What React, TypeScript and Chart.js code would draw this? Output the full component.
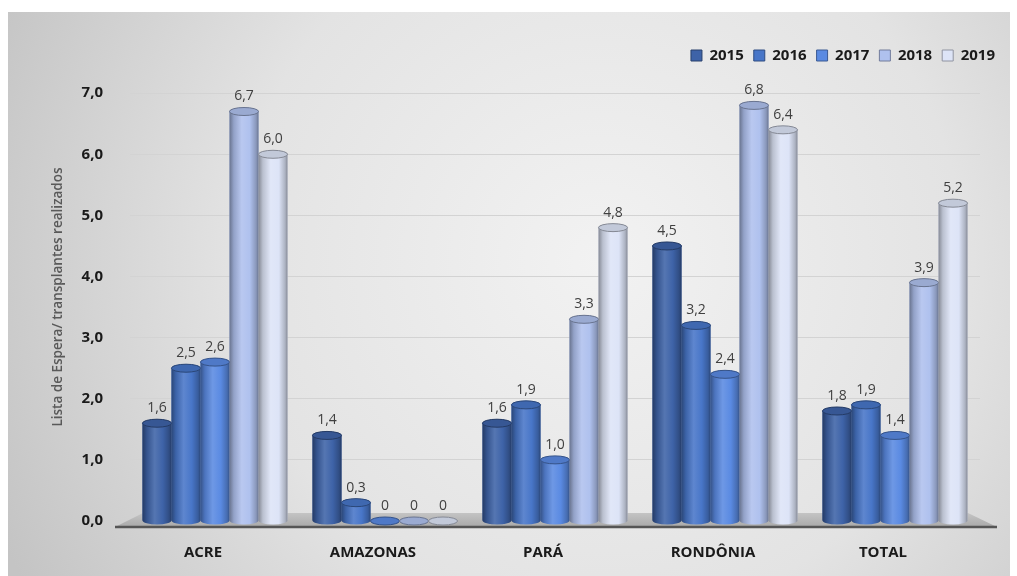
import React, { useEffect, useRef } from 'react';
import { Chart, registerables } from 'chart.js';

Chart.register(...registerables);

const categories = ['ACRE', 'AMAZONAS', 'PARÁ', 'RONDÔNIA', 'TOTAL'];
const years = ['2015', '2016', '2017', '2018', '2019'];
const v2015 = [1.6, 1.4, 1.6, 4.5, 1.8];
const v2016 = [2.5, 0.3, 1.9, 3.2, 1.9];
const v2017 = [2.6, 0, 1.0, 2.4, 1.4];
const v2018 = [6.7, 0, 3.3, 6.8, 3.9];
const v2019 = [6.0, 0, 4.8, 6.4, 5.2];
const seriesValues = [v2015, v2016, v2017, v2018, v2019];
const yTicks = [0, 1, 2, 3, 4, 5, 6, 7];
const yTitle = 'Lista de Espera/ transplantes realizados';
const colors = ['#3E63A8', '#4876C8', '#5A8AE2', '#AFC1EE', '#DDE4F7'];

const FONT = '"Open Sans", "Noto Sans", sans-serif';

const rgb = (h: string) => [1, 3, 5].map((i) => parseInt(h.slice(i, i + 2), 16));
const shade = (h: string, f: number) => {
  const [r, g, b] = rgb(h).map((c) => Math.max(0, Math.min(255, Math.round(c * f))));
  return `rgb(${r},${g},${b})`;
};
const tint = (h: string, f: number) => {
  const [r, g, b] = rgb(h).map((c) => Math.round(c + (255 - c) * f));
  return `rgb(${r},${g},${b})`;
};
const fmt = (v: number) => (v === 0 ? '0' : v.toFixed(1).replace('.', ','));

const drawCylinder = (ctx: CanvasRenderingContext2D, x: number, top: number, base: number, w: number, color: string) => {
  const left = x - w / 2;
  const rx = w / 2;
  const ry = 4;
  const g = ctx.createLinearGradient(left, 0, left + w, 0);
  g.addColorStop(0, shade(color, 0.6));
  g.addColorStop(0.15, shade(color, 0.84));
  g.addColorStop(0.42, tint(color, 0.12));
  g.addColorStop(0.7, color);
  g.addColorStop(0.92, shade(color, 0.78));
  g.addColorStop(1, shade(color, 0.6));
  ctx.save();
  ctx.fillStyle = g;
  ctx.beginPath();
  ctx.moveTo(left, top);
  ctx.lineTo(left, base);
  ctx.ellipse(x, base, rx, ry, 0, Math.PI, 0, true);
  ctx.lineTo(left + w, top);
  ctx.ellipse(x, top, rx, ry, 0, 0, Math.PI, true);
  ctx.closePath();
  ctx.fill();
  ctx.beginPath();
  ctx.ellipse(x, top, rx, ry, 0, 0, Math.PI * 2);
  ctx.fillStyle = shade(color, 0.88);
  ctx.fill();
  ctx.strokeStyle = shade(color, 0.6);
  ctx.lineWidth = 1;
  ctx.stroke();
  ctx.restore();
};

const cylinderPlugin = {
  id: 'cylinders',
  beforeDraw(chart: any) {
    const { ctx, width, height } = chart;
    ctx.save();
    ctx.fillStyle = '#ffffff';
    ctx.fillRect(0, 0, width, height);
    const g = ctx.createRadialGradient(600, 260, 0, 600, 260, 660);
    g.addColorStop(0, '#f2f2f2');
    g.addColorStop(0.55, '#e3e3e3');
    g.addColorStop(1, '#c4c4c4');
    ctx.fillStyle = g;
    ctx.fillRect(8, 12, 1002, height - 12);
    ctx.restore();
  },
  beforeDatasetsDraw(chart: any) {
    const { ctx, chartArea } = chart;
    const base = chart.scales.y.getPixelForValue(0);
    const { left, right } = chartArea;
    ctx.save();
    const g = ctx.createLinearGradient(0, base - 8, 0, base + 6);
    g.addColorStop(0, '#c4c4c4');
    g.addColorStop(1, '#a9a9a9');
    ctx.fillStyle = g;
    ctx.beginPath();
    ctx.moveTo(left - 15, base + 6);
    ctx.lineTo(left + 13, base - 8);
    ctx.lineTo(right - 12, base - 8);
    ctx.lineTo(right + 17, base + 6);
    ctx.closePath();
    ctx.fill();
    ctx.strokeStyle = '#555555';
    ctx.lineWidth = 2.5;
    ctx.beginPath();
    ctx.moveTo(left - 15, base + 6);
    ctx.lineTo(right + 17, base + 6);
    ctx.stroke();
    ctx.restore();
  },
  afterDatasetsDraw(chart: any) {
    const { ctx } = chart;
    const labels: any[] = [];
    chart.data.datasets.forEach((ds: any, di: number) => {
      const meta = chart.getDatasetMeta(di);
      meta.data.forEach((el: any, i: number) => {
        const { x, y, base, width } = el.getProps(['x', 'y', 'base', 'width'], true);
        drawCylinder(ctx, x, y, base, width, colors[di]);
        labels.push({ x, y, text: fmt(ds.data[i]) });
      });
    });
    ctx.save();
    ctx.font = `14px ${FONT}`;
    ctx.fillStyle = '#404040';
    ctx.textAlign = 'center';
    ctx.textBaseline = 'bottom';
    labels.forEach((l) => ctx.fillText(l.text, l.x, l.y - 8));
    ctx.restore();
  },
};

export default function App() {
  const ref = useRef<HTMLCanvasElement | null>(null);
  useEffect(() => {
    if (!ref.current) return;
    Chart.defaults.font.family = FONT;
    const chart = new Chart(ref.current, {
      type: 'bar',
      data: {
        labels: categories,
        datasets: years.map((yr, i) => ({
          label: yr,
          data: seriesValues[i],
          backgroundColor: colors[i],
          borderWidth: 0,
          barPercentage: 1,
          categoryPercentage: 0.853,
        })),
      },
      options: {
        responsive: false,
        animation: false,
        events: [],
        layout: { padding: { top: 38, right: 12, left: 0, bottom: 0 } },
        plugins: {
          tooltip: { enabled: false },
          legend: {
            position: 'top',
            align: 'end',
            labels: {
              boxWidth: 11,
              boxHeight: 11,
              padding: 10,
              color: '#1a1a1a',
              font: { family: FONT, size: 15, weight: 'bold' },
              generateLabels: (c: any) =>
                c.data.datasets.map((ds: any, i: number) => ({
                  text: ds.label,
                  fillStyle: colors[i],
                  strokeStyle: shade(colors[i], 0.65),
                  lineWidth: 1,
                  hidden: false,
                  datasetIndex: i,
                  fontColor: '#1a1a1a',
                })),
            },
          },
        },
        scales: {
          x: {
            grid: { display: false, drawTicks: false },
            border: { display: false },
            ticks: {
              color: '#1a1a1a',
              font: { family: FONT, size: 15, weight: 'bold' },
              padding: 23,
              labelOffset: -12,
              maxRotation: 0,
            },
            afterFit: (s: any) => {
              s.height = 55;
            },
          },
          y: {
            min: 0,
            max: 7.33,
            grid: { color: '#d3d3d3', lineWidth: 1, drawTicks: false },
            border: { display: false },
            afterBuildTicks: (s: any) => {
              s.ticks = yTicks.map((v) => ({ value: v }));
            },
            ticks: {
              color: '#1a1a1a',
              padding: 27,
              font: { family: FONT, size: 15, weight: 'bold' },
              callback: (v: any) => Number(v).toFixed(1).replace('.', ','),
            },
            title: {
              display: true,
              text: yTitle,
              color: '#595959',
              font: { family: FONT, size: 13.5, weight: '600' },
              padding: { top: 50, bottom: 0 },
            },
            afterFit: (s: any) => {
              s.width = 130;
            },
          },
          yR: {
            type: 'linear',
            position: 'right',
            display: true,
            grid: { display: false, drawTicks: false },
            border: { display: false },
            ticks: { display: false },
            afterFit: (s: any) => {
              s.width = 25;
            },
          },
        },
      },
      plugins: [cylinderPlugin],
    } as any);
    return () => chart.destroy();
  }, []);
  return (
    <div style={{ position: 'fixed', left: 0, top: 0, width: 1017, height: 576 }}>
      <canvas ref={ref} width={1017} height={576} />
    </div>
  );
}
